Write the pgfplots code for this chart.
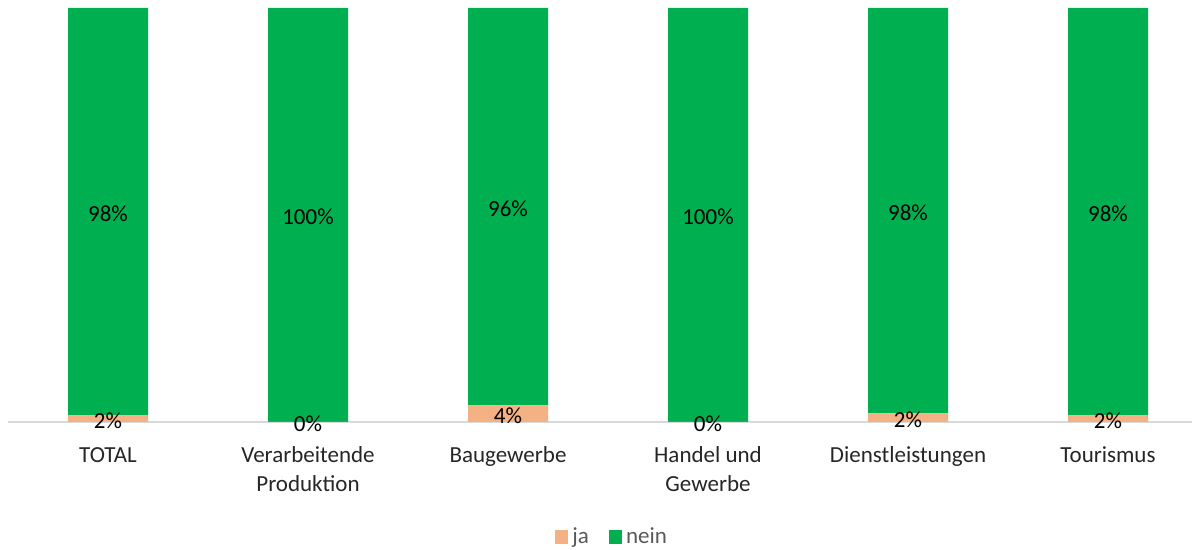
\documentclass[border=0pt]{standalone}
\usepackage{pgfplots}
\pgfplotsset{compat=1.18}
\usepackage{fontspec}
\setmainfont{Carlito}
\definecolor{jaC}{HTML}{F4B183}
\definecolor{neinC}{HTML}{00B050}
\definecolor{legtext}{HTML}{595959}
\definecolor{axisC}{HTML}{D9D9D9}
\newcommand{\lblfont}{\fontsize{11.5}{14.5}\selectfont}
\begin{document}
\begin{tikzpicture}[x=1pt,y=1pt]
\useasboundingbox (0,0) rectangle (596,275);
\begin{axis}[
  at={(4pt,64pt)}, anchor=south west,
  scale only axis, width=592pt, height=207pt,
  ybar stacked, bar width=40pt,
  xmin=-0.5, xmax=5.42, ymin=0, ymax=100,
  axis lines*=left,
  y axis line style={draw=none},
  x axis line style={draw=axisC, line width=1pt},
  ytick=\empty,
  xtick={0,1,2,3,4,5},
  xticklabels={{\strut TOTAL},{\strut Verarbeitende\\Produktion},{\strut Baugewerbe},{\strut Handel und\\Gewerbe},{\strut Dienstleistungen},{\strut Tourismus}},
  major tick length=0pt,
  xticklabel style={font=\lblfont, text=black!85, align=center, anchor=north, inner sep=0pt, yshift=-9.7pt},
  nodes near coords,
  point meta=explicit symbolic,
  every node near coord/.append style={anchor=center, yshift=-1pt, font=\lblfont, text=black},
  legend style={at={(0.511,-0.278)}, anchor=center, draw=none, fill=none, legend columns=2, font=\lblfont, text=legtext,
    /tikz/every even column/.append style={column sep=8pt}},
  legend image code/.code={\path[#1,draw=none] (0pt,-3.3pt) rectangle (6.6pt,3.3pt);},
  clip=false,
]
\addplot[fill=jaC, draw=none] coordinates {
  (0,1.6)[2\%] (1,0.01)[0\%] (2,4.0)[4\%] (3,0.01)[0\%] (4,2.1)[2\%] (5,1.6)[2\%]
};
\addplot[fill=neinC, draw=none] coordinates {
  (0,98.4)[98\%] (1,99.99)[100\%] (2,96.0)[96\%] (3,99.99)[100\%] (4,97.9)[98\%] (5,98.4)[98\%]
};
\legend{ja,nein}
\end{axis}
\end{tikzpicture}
\end{document}
